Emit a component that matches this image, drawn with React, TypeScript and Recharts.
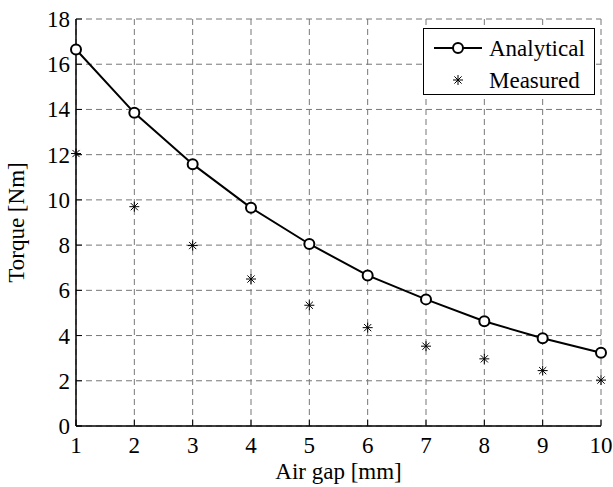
import { CartesianGrid, Line, LineChart, Text, XAxis, YAxis } from "recharts";

const airGap = [1, 2, 3, 4, 5, 6, 7, 8, 9, 10];
const analytical = [16.65, 13.85, 11.58, 9.65, 8.05, 6.66, 5.6, 4.63, 3.88, 3.24];
const measured = [12.05, 9.7, 7.98, 6.5, 5.34, 4.35, 3.53, 2.97, 2.45, 2.03];
const xTicks = [1, 2, 3, 4, 5, 6, 7, 8, 9, 10];
const yTicks = [0, 2, 4, 6, 8, 10, 12, 14, 16, 18];

const FONT = "Liberation Serif";
const FS = 23;
const txt = { fontFamily: FONT, fontSize: FS };

const rows = airGap.map((gap, i) => ({
  gap,
  analytical: analytical[i],
  measured: measured[i],
}));

function Star({ cx, cy, r = 5 }: { cx: number; cy: number; r?: number }) {
  const d = r * 0.72;
  return (
    <g stroke="#000" strokeWidth={1}>
      <line x1={cx - r} y1={cy} x2={cx + r} y2={cy} />
      <line x1={cx} y1={cy - r} x2={cx} y2={cy + r} />
      <line x1={cx - d} y1={cy - d} x2={cx + d} y2={cy + d} />
      <line x1={cx - d} y1={cy + d} x2={cx + d} y2={cy - d} />
    </g>
  );
}

// inward tick mark + serif label
function XTick(props: any) {
  const { x, y, payload } = props;
  const axisY = y - 4;
  return (
    <g>
      <line x1={x} x2={x} y1={axisY} y2={axisY - 6} stroke="#000" />
      <Text x={x} y={axisY + 27} textAnchor="middle" style={txt} fill="#000">
        {String(payload.value)}
      </Text>
    </g>
  );
}

function YTick(props: any) {
  const { x, y, payload } = props;
  const axisX = x + 4;
  return (
    <g>
      <line x1={axisX} x2={axisX + 6} y1={y} y2={y} stroke="#000" />
      <Text x={axisX - 6} y={y + 8} textAnchor="end" style={txt} fill="#000">
        {String(payload.value)}
      </Text>
    </g>
  );
}

function LegendBox() {
  return (
    <div
      style={{
        position: "absolute",
        left: 423,
        top: 28,
        width: 170,
        height: 65,
        border: "1px solid #000",
        background: "#fff",
        fontFamily: FONT,
      }}
    >
      <svg width={170} height={65} style={{ position: "absolute", left: 0, top: 0 }}>
        <line x1={10} x2={58} y1={19} y2={19} stroke="#000" strokeWidth={2} />
        <circle cx={34} cy={19} r={5} fill="#fff" stroke="#000" strokeWidth={2} />
        <Star cx={34} cy={51} r={5} />
        <Text x={65} y={27} style={txt} fill="#000">Analytical</Text>
        <Text x={65} y={59} style={txt} fill="#000">Measured</Text>
      </svg>
    </div>
  );
}

export default function App() {
  return (
    <div
      style={{
        position: "absolute",
        left: 0,
        top: 0,
        width: 613,
        height: 487,
        background: "#fff",
        fontFamily: FONT,
      }}
    >
      <LineChart
        width={613}
        height={487}
        data={rows}
        margin={{ top: 19, right: 12, bottom: 0, left: 36 }}
      >
        <CartesianGrid stroke="#777" strokeDasharray="6 4" />
        <XAxis
          dataKey="gap"
          type="number"
          domain={[1, 10]}
          ticks={xTicks}
          interval={0}
          height={61}
          tickLine={false}
          tickSize={0}
          tickMargin={4}
          axisLine={{ stroke: "#000", strokeWidth: 1.5 }}
          tick={<XTick />}
          label={{
            value: "Air gap [mm]",
            position: "insideBottom",
            offset: 8,
            style: txt,
            fill: "#000",
          }}
        />
        <YAxis
          type="number"
          domain={[0, 18]}
          ticks={yTicks}
          interval={0}
          width={40}
          tickLine={false}
          tickSize={0}
          tickMargin={4}
          axisLine={{ stroke: "#000", strokeWidth: 1.5 }}
          tick={<YTick />}
          label={{
            value: "Torque [Nm]",
            angle: -90,
            position: "center",
            dx: -40,
            style: txt,
            fill: "#000",
          }}
        />
        <Line
          dataKey="analytical"
          stroke="#000"
          strokeWidth={2}
          isAnimationActive={false}
          dot={{ r: 5, fill: "#fff", stroke: "#000", strokeWidth: 2 }}
        />
        <Line
          dataKey="measured"
          stroke="none"
          isAnimationActive={false}
          dot={(p: any) => <Star key={p.index} cx={p.cx} cy={p.cy} r={5} />}
        />
      </LineChart>
      <LegendBox />
    </div>
  );
}
